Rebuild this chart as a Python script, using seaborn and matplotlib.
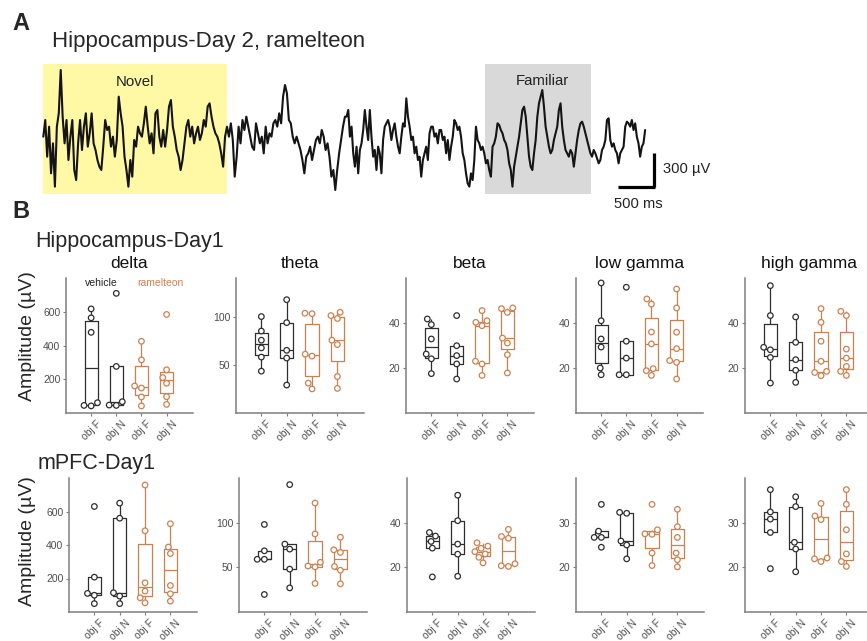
import numpy as np
import pandas as pd
import matplotlib
matplotlib.use("Agg")
import matplotlib.pyplot as plt
import matplotlib.transforms as mtransforms
from matplotlib.patches import Rectangle
import seaborn as sns

# ---------------- data ----------------
# Panel A trace (µV), two consecutive segments
trace_seg1 = [30, 180, -150, 120, -300, -30, -420, 120, 240, 630, 210, -30, 180, -180, 30, 180, -270, -360,
              -30, 180, -90, 120, 240, -60, 60, 240, -30, -90, -180, -240, -270, -60, 180, 90, 120, -60, 30,
              -150, 0, 390, 240, 120, -150, -270, -420, -180, -330, 0, -60, 120, 60, 30, 150, 300, 120, -30,
              60, -120, 240, 270, 30, -60, 90, -60, 90, 300, 360, 120, 30, -90, -150, -270, -180, -30, 120,
              180, 30, 120, -30, 60, 120, 0, 60, 180, 120, 300, 330, 210, 120, 60, 30, -30, -120, -240, 30,
              120, 30, 150, 0, -330, -150, 120, -30, 180, 90, 210, 120, 30, -60, -90, 150, 60, -30, 30, -120,
              120, -30, 60, 30, 150, 180, 120, 240, 150, 390, 495, 420, 180, 150, 30, -30, 30, -30, -90, -180,
              -300, -150, -120, -60, -180, -90, 0, 30, -30, 90, 30, -90, -30, -150, -330, -270, -450, -270,
              -120, 0, 120, 210]
trace_seg2 = [210, 270, 30, 120, -120, -240, -60, -300, -90, -30, 90, 270, 120, 0, 270, 30, -150, -90, -270,
              -60, -120, -300, 0, 120, 150, 180, 120, 0, 90, 150, 30, -60, -120, 30, 150, 120, 375, 210, 120,
              0, 30, -120, -60, -180, -150, -330, -180, -120, -60, -180, 60, 120, 120, 30, 60, -30, 90, 90, 0,
              30, -120, 0, -180, -60, 30, 180, 150, 90, 120, 30, -120, -180, -300, -390, -420, -300, -360,
              -180, 120, 0, -30, -90, -60, -120, -210, -180, -270, -330, -60, -30, 30, 150, 135, 90, 60, 0,
              -30, -90, -210, -270, -420, -240, -150, -60, 30, 150, 270, 300, 210, 30, -150, -240, -270,
              -120, 0, 210, 330, 390, 450, 300, 120, 30, -60, -120, -90, 0, 60, 120, 270, 330, 120, 0, -90,
              -120, -150, -90, -120, -240, -120, 0, 90, 150, 165, 120, 60, 0, -60, -120, -150, -90, -120,
              -165, -210, -180, -90, -60, 0, 180, 195, 0, -60, -30, -90, -120, -210, -120, -90, -60, 120,
              165, 150, 120, 180, 90, 150, 30, -30, -150, -60, -30, 90]
seg1_end_s = 4.19
seg2_end_s = 8.36
novel_window = (0.0, 2.55)
familiar_window = (6.135, 7.61)

conds = ["vF", "vN", "rF", "rN"]
cond_treat = {"vF": "vehicle", "vN": "vehicle", "rF": "ramelteon", "rN": "ramelteon"}
xtick_labels = ["obj F", "obj N", "obj F", "obj N"]
bands = ["delta", "theta", "beta", "low gamma", "high gamma"]

# Hippocampus-Day1
hip_delta = {"vF": [617, 564, 478, 61, 45, 42], "vN": [709, 276, 67, 47, 45],
             "rF": [425, 315, 160, 148, 95, 42], "rN": [584, 256, 210, 176, 97, 51]}
hip_theta = {"vF": [100, 85, 75.5, 67.5, 58, 43.4], "vN": [117.5, 93.7, 65, 57, 29],
             "rF": [103.5, 103, 61, 59, 31, 25], "rN": [104.5, 101, 98, 75.5, 71, 37.8, 25.5]}
hip_beta = {"vF": [41.8, 39.3, 32.9, 26.2, 24.1, 17.5], "vN": [43.3, 29.9, 25.5, 21.8, 15.1],
            "rF": [45.5, 41, 40.3, 38.8, 23, 21.8, 16.7], "rN": [46.7, 46.4, 44.7, 33.3, 31.1, 25.9, 17.8]}
hip_lowg = {"vF": [57.8, 41, 32.9, 29.3, 20, 17], "vN": [55.9, 31.9, 24.4, 17, 17],
            "rF": [50.7, 48.4, 36, 30.7, 19.7, 18.8, 16.7], "rN": [55.1, 46.7, 35.9, 28.6, 23.3, 22.5, 15.1]}
hip_highg = {"vF": [56.6, 43.3, 29.2, 28.1, 24.7, 13.3], "vN": [42.7, 31.4, 23.7, 19, 13.6],
             "rF": [46.4, 40.3, 31.9, 23, 18.5, 18, 16.6], "rN": [45.2, 43.3, 28.4, 24.4, 20.7, 18.5, 16.7]}
hip_ylim = [(0, 800), (0, 140), (0, 60), (0, 60), (0, 60)]
hip_yticks = [[200, 400, 600], [50, 100], [20, 40], [20, 40], [20, 40]]

# mPFC-Day1
pfc_delta = {"vF": [630, 208, 111, 100, 50], "vN": [650, 560, 115, 95, 50],
             "rF": [758, 485, 174, 125, 85, 55], "rN": [527, 388, 349, 158, 109, 65]}
pfc_theta = {"vF": [98, 68.5, 59, 59, 19.6], "vN": [142.6, 76, 70.4, 48, 27],
             "rF": [122, 87.4, 55.6, 51.5, 50.5, 32], "rN": [83.7, 69.6, 66.7, 51, 46.7, 31.5]}
pfc_beta = {"vF": [35.6, 34, 31.6, 28.6, 15.7], "vN": [52.3, 40.9, 30.4, 25.9, 16],
            "rF": [31, 29.5, 28.5, 27, 26, 24.5, 22], "rN": [37, 33.8, 33, 21.6, 20.7, 20.4]}
pfc_lowg = {"vF": [34.1, 28.1, 26.7, 26.7, 24.5], "vN": [32.3, 32.1, 25.9, 25, 21.9],
            "rF": [34.1, 28.4, 27.5, 27.4, 23.2, 20.4], "rN": [33, 29.1, 26.7, 23.2, 21.7, 20.1]}
pfc_highg = {"vF": [37.4, 32.4, 30.8, 27.8, 19.7], "vN": [35.8, 33.6, 25.6, 24.1, 19],
             "rF": [34.3, 31.5, 30.7, 22.1, 21.9, 21.3], "rN": [37.4, 34.1, 28.4, 23, 21.3, 20.2]}
pfc_ylim = [(0, 800), (0, 150), (0, 60), (10, 40), (10, 40)]
pfc_yticks = [[200, 400, 600], [50, 100], [20, 40], [20, 30], [20, 30]]

# ---------------- style ----------------
sns.set_theme(style="white")
plt.rcParams['font.family'] = ['Liberation Sans', 'DejaVu Sans']

VEH = "#2e2e2e"
RAM = "#cc8050"
palette = {"vehicle": VEH, "ramelteon": RAM}
SPINE = "#7f7f7f"
TICKC = "#4d4d4d"

W, H = 867, 641
fig = plt.figure(figsize=(W / 100, H / 100), dpi=100)


def add_ax(l, t, r, b):
    return fig.add_axes([l / W, 1 - b / H, (r - l) / W, (b - t) / H])


def ftext(x, y, s, **kw):
    return fig.text(x / W, 1 - y / H, s, **kw)


# ---------------- Panel A: trace ----------------
axA = add_ax(40, 55, 720, 215)
t1 = np.linspace(0, seg1_end_s, len(trace_seg1))
t2 = np.linspace(seg1_end_s, seg2_end_s, len(trace_seg2) + 1)[1:]
trace_df = pd.DataFrame({"t": np.concatenate([t1, t2]),
                         "uv": np.array(trace_seg1 + trace_seg2, dtype=float)})
axA.add_patch(Rectangle((novel_window[0], -486), novel_window[1] - novel_window[0], 1170,
                        facecolor="#fff9a6", edgecolor="none", zorder=0))
axA.add_patch(Rectangle((familiar_window[0], -486), familiar_window[1] - familiar_window[0], 1170,
                        facecolor="#d9d9d9", edgecolor="none", zorder=0))
sns.lineplot(data=trace_df, x="t", y="uv", color="#141414", linewidth=1.5, ax=axA, zorder=2,
             estimator=None, sort=False)
axA.set_xlim(-0.046, 9.40)
axA.set_ylim(-675, 765)
axA.axis("off")
axA.plot([8.48, 8.48], [-117, -423], color="black", lw=2.3, solid_capstyle="butt")
axA.plot([7.98, 8.48 + 0.02], [-423, -423], color="black", lw=2.3, solid_capstyle="butt")
axA.text(1.28, 522, "Novel", ha="center", va="center", fontsize=10.8, color="#222222")
axA.text(6.93, 531, "Familiar", ha="center", va="center", fontsize=10.8, color="#222222")
axA.text(8.61, -261, "300 µV", ha="left", va="center", fontsize=10.6, color="#222222")
axA.text(8.26, -576, "500 ms", ha="center", va="center", fontsize=10.6, color="#222222")

ftext(12, 23, "A", fontsize=17, fontweight="bold", va="center", ha="left")
ftext(12, 212, "B", fontsize=17, fontweight="bold", va="center", ha="left")
ftext(52, 41, "Hippocampus-Day 2, ramelteon", fontsize=16, va="center", ha="left")
ftext(35, 241, "Hippocampus-Day1", fontsize=15.5, va="center", ha="left")
ftext(38, 463, "mPFC-Day1", fontsize=15.5, va="center", ha="left")
ftext(27, 336, "Amplitude (µV)", fontsize=14, rotation=90, va="center", ha="center")
ftext(28, 541, "Amplitude (µV)", fontsize=14, rotation=90, va="center", ha="center")


# ---------------- Panel B: box + swarm ----------------
def panel_df(panel):
    rows = []
    for c in conds:
        for v in panel[c]:
            rows.append({"cond": c, "treat": cond_treat[c], "value": v})
    return pd.DataFrame(rows)


def draw_panel(ax, panel, ylim, yticks, title=None):
    df = panel_df(panel)
    sns.boxplot(data=df, x="cond", y="value", hue="treat", order=conds,
                hue_order=["vehicle", "ramelteon"], palette=palette, fill=False,
                width=0.52, showcaps=False, showfliers=False, linewidth=0.9,
                legend=False, ax=ax)
    sns.swarmplot(data=df, x="cond", y="value", hue="treat", order=conds,
                  hue_order=["vehicle", "ramelteon"], palette=palette, size=4.0,
                  linewidth=0.9, legend=False, ax=ax)
    for coll in ax.collections:
        fc = coll.get_facecolors()
        coll.set_edgecolors(fc)
        coll.set_facecolors("white")
        coll.set_zorder(4)
    ax.set_xlim(-1.0, 4.05)
    ax.set_ylim(*ylim)
    ax.set_yticks(yticks)
    ax.set_yticklabels([str(v) for v in yticks])
    ax.set_xticks(range(4))
    ax.set_xticklabels(xtick_labels, rotation=45, ha="center")
    offset = mtransforms.ScaledTranslation(4 / 100, 0, fig.dpi_scale_trans)
    for lbl in ax.get_xticklabels():
        lbl.set_transform(lbl.get_transform() + offset)
    ax.set_xlabel("")
    ax.set_ylabel("")
    for s in ["top", "right"]:
        ax.spines[s].set_visible(False)
    for s in ["left", "bottom"]:
        ax.spines[s].set_color(SPINE)
        ax.spines[s].set_linewidth(1.1)
    ax.tick_params(axis="both", left=True, bottom=True, length=2.5, width=0.8, color=SPINE,
                   labelsize=7.5, labelcolor=TICKC, pad=1.5)
    if title:
        ax.set_title(title, fontsize=12.5, pad=7, color="#111111")


row1 = [(66, 193), (236, 364), (406, 534), (576, 703), (745, 873)]
row2 = [(69, 197), (239, 367), (407, 535), (576, 704), (745, 873)]
hip_panels = [hip_delta, hip_theta, hip_beta, hip_lowg, hip_highg]
pfc_panels = [pfc_delta, pfc_theta, pfc_beta, pfc_lowg, pfc_highg]

for i, (l, r) in enumerate(row1):
    ax = add_ax(l, 278, r, 413)
    draw_panel(ax, hip_panels[i], hip_ylim[i], hip_yticks[i], title=bands[i])
    if i == 0:
        ax.text(0.28, 0.965, "vehicle", transform=ax.transAxes, ha="center", va="center",
                fontsize=7.5, color="#222222")
        ax.text(0.74, 0.965, "ramelteon", transform=ax.transAxes, ha="center", va="center",
                fontsize=7.5, color=RAM)

for i, (l, r) in enumerate(row2):
    ax = add_ax(l, 478, r, 612)
    draw_panel(ax, pfc_panels[i], pfc_ylim[i], pfc_yticks[i])

fig.savefig("out.png", dpi=100, facecolor="white")
